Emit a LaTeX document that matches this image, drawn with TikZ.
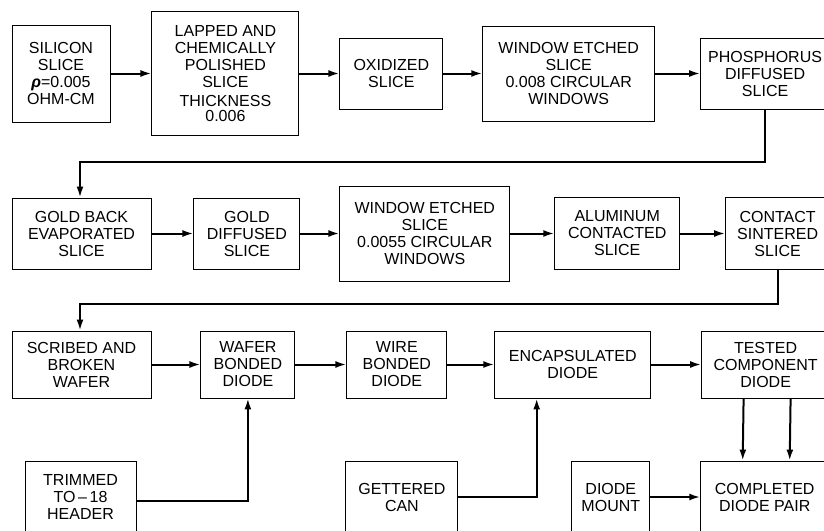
\documentclass[tikz,border=0pt]{standalone}
\usepackage{fontspec}
\setmainfont{Liberation Sans}
\usepackage{tikz}
\usetikzlibrary{arrows.meta,positioning}
\tikzset{
  fl box/.style={
    rectangle,
    draw=black,
    line width=0.9pt,
    inner sep=0pt,
    align=center,
    font=\fontsize{16}{17}\selectfont,
  },
  fl arrow/.style={-{Latex[length=11pt,width=7pt]}, line width=2pt},
  fl line/.style={line width=2pt},
}

\begin{document}
\begin{tikzpicture}[x=1pt,y=-1pt]
  \useasboundingbox[fill=white] (0,0) rectangle (824,530);
  % first row
  \node[fl box,minimum width=98pt,minimum height=97pt] (silicon) at (61,73.5)
    {SILICON\\SLICE\\\textbf{\textit{ρ}}=0.005\\OHM-CM};
  \node[fl box,minimum width=147pt,minimum height=124pt,right=41pt of silicon] (lapped)
    {LAPPED AND\\CHEMICALLY\\POLISHED\\SLICE\\[2pt]THICKNESS\\[-2pt]0.006};
  \node[fl box,minimum width=103pt,minimum height=71pt,right=40pt of lapped] (oxidized) {OXIDIZED\\SLICE};
  \node[fl box,minimum width=172pt,minimum height=95pt,right=39pt of oxidized] (etchone)
    {WINDOW ETCHED\\SLICE\\0.008 CIRCULAR\\WINDOWS};
  \node[fl box,minimum width=129pt,minimum height=71pt,right=45pt of etchone] (phosphorus)
    {PHOSPHORUS\\DIFFUSED\\SLICE};

  % second row
  \node[fl box,minimum width=139pt,minimum height=71pt] (goldback) at (81.5,233.5)
    {GOLD BACK\\EVAPORATED\\SLICE};
  \node[fl box,minimum width=106pt,minimum height=71pt,right=42pt of goldback] (golddiff)
    {GOLD\\DIFFUSED\\SLICE};
  \node[fl box,minimum width=170pt,minimum height=95pt,right=39pt of golddiff] (etchtwo)
    {WINDOW ETCHED\\SLICE\\0.0055 CIRCULAR\\WINDOWS};
  \node[fl box,minimum width=125pt,minimum height=72pt,right=44pt of etchtwo] (aluminum)
    {ALUMINUM\\CONTACTED\\SLICE};
  \node[fl box,minimum width=104pt,minimum height=72pt,right=45pt of aluminum] (contact)
    {CONTACT\\SINTERED\\SLICE};

  % third row
  \node[fl box,minimum width=139pt,minimum height=67pt] (scribed) at (81.5,364.5)
    {SCRIBED AND\\BROKEN\\WAFER};
  \node[fl box,minimum width=94pt,minimum height=67pt,right=49pt of scribed] (wafer)
    {WAFER\\BONDED\\DIODE};
  \node[fl box,minimum width=100pt,minimum height=67pt,right=51pt of wafer] (wire)
    {WIRE\\BONDED\\DIODE};
  \node[fl box,minimum width=156pt,minimum height=67pt,right=47pt of wire] (encap)
    {ENCAPSULATED\\DIODE};
  \node[fl box,minimum width=128pt,minimum height=67pt,right=50pt of encap] (tested)
    {TESTED\\COMPONENT\\DIODE};

  % bottom row
  \node[fl box,minimum width=111pt,minimum height=72pt] (trimmed) at (80.5,497)
    {TRIMMED\\TO\,–\,18\\HEADER};
  \node[fl box,minimum width=112pt,minimum height=72pt,right=209pt of trimmed] (gettered)
    {GETTERED\\CAN};
  \node[fl box,minimum width=78pt,minimum height=72pt,right=113pt of gettered] (mount)
    {DIODE\\MOUNT};
  \node[fl box,minimum width=128pt,minimum height=72pt,right=50pt of mount] (completed)
    {COMPLETED\\DIODE PAIR};

  \draw[fl arrow] (silicon) -- (lapped);
  \draw[fl arrow] (lapped) -- (oxidized);
  \draw[fl arrow] (oxidized) -- (etchone);
  \draw[fl arrow] (etchone) -- (phosphorus);
  \draw[fl arrow] (phosphorus.south) -- ++(0,53) -| ([xshift=-1.5pt]goldback.north);

  \draw[fl arrow] (goldback) -- (golddiff);
  \draw[fl arrow] (golddiff) -- (etchtwo);
  \draw[fl arrow] (etchtwo) -- (aluminum);
  \draw[fl arrow] (aluminum) -- (contact);
  \draw[fl arrow] (contact.south) -- ++(0,34) -| ([xshift=-1.5pt]scribed.north);

  \draw[fl arrow] (scribed) -- (wafer);
  \draw[fl arrow] (wafer) -- (wire);
  \draw[fl arrow] (wire) -- (encap);
  \draw[fl arrow] (encap) -- (tested);

  \draw[fl arrow] ([yshift=-4pt]trimmed.east) -| (wafer.south);
  \draw[fl arrow] (gettered.east) -| ([xshift=-36pt]encap.south);
  \draw[fl arrow] (mount) -- (completed);
  \draw[fl arrow] ([xshift=-22pt]tested.south) -- ([xshift=-22pt]completed.north);
  \draw[fl arrow] ([xshift=25pt]tested.south) -- ([xshift=25pt]completed.north);
\end{tikzpicture}
\end{document}
